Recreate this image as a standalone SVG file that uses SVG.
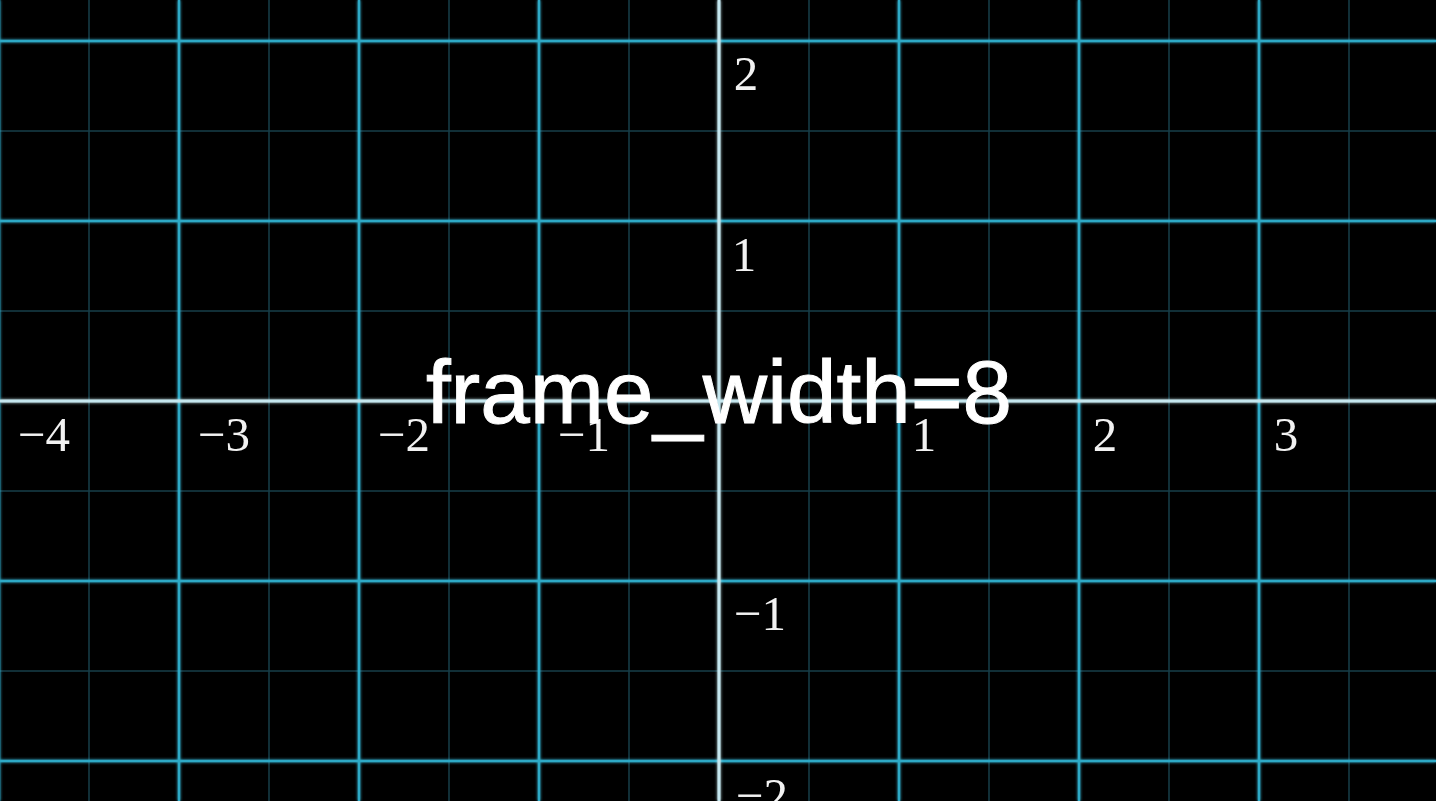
<svg xmlns="http://www.w3.org/2000/svg" width="1436" height="801" viewBox="0 0 1436 801">
  <defs>
    <style>
      .minor { stroke: #173f4a; stroke-width: 1.5; }
      .major { stroke: #2fa9c6; stroke-width: 2.5; }
      .axis { stroke: #c4e6ee; stroke-width: 3; }
      .num { font-family: "Liberation Serif", "DejaVu Serif", serif; font-size: 49px; fill: #f2f2f2; text-anchor: middle; }
      .title { font-family: "Liberation Sans", Arial, sans-serif; font-size: 89px; fill: #ffffff; stroke: #ffffff; stroke-width: 1; text-anchor: middle; }
    </style>
    <filter id="glow" x="-5%" y="-5%" width="110%" height="110%">
      <feGaussianBlur stdDeviation="1.5" result="b"/>
      <feMerge><feMergeNode in="b"/><feMergeNode in="SourceGraphic"/></feMerge>
    </filter>
  </defs>
  <rect x="0" y="0" width="1436" height="801" fill="#000000"/>

  <g id="minor-grid" class="minor">
    <line x1="89" y1="0" x2="89" y2="801"/>
    <line x1="269" y1="0" x2="269" y2="801"/>
    <line x1="449" y1="0" x2="449" y2="801"/>
    <line x1="629" y1="0" x2="629" y2="801"/>
    <line x1="809" y1="0" x2="809" y2="801"/>
    <line x1="989" y1="0" x2="989" y2="801"/>
    <line x1="1169" y1="0" x2="1169" y2="801"/>
    <line x1="1349" y1="0" x2="1349" y2="801"/>
    <line x1="0" y1="131" x2="1436" y2="131"/>
    <line x1="0" y1="311" x2="1436" y2="311"/>
    <line x1="0" y1="491" x2="1436" y2="491"/>
    <line x1="0" y1="671" x2="1436" y2="671"/>
  </g>

  <g id="major-grid" class="major" filter="url(#glow)">
    <line x1="-1" y1="0" x2="-1" y2="801"/>
    <line x1="179" y1="0" x2="179" y2="801"/>
    <line x1="359" y1="0" x2="359" y2="801"/>
    <line x1="539" y1="0" x2="539" y2="801"/>
    <line x1="899" y1="0" x2="899" y2="801"/>
    <line x1="1079" y1="0" x2="1079" y2="801"/>
    <line x1="1259" y1="0" x2="1259" y2="801"/>
    <line x1="0" y1="41" x2="1436" y2="41"/>
    <line x1="0" y1="221" x2="1436" y2="221"/>
    <line x1="0" y1="581" x2="1436" y2="581"/>
    <line x1="0" y1="761" x2="1436" y2="761"/>
  </g>

  <g id="axes" class="axis" filter="url(#glow)">
    <line x1="0" y1="401" x2="1436" y2="401"/>
    <line x1="719" y1="0" x2="719" y2="801"/>
  </g>

  <g id="x-labels">
    <text class="num" x="44" y="451">−4</text>
    <text class="num" x="224" y="451">−3</text>
    <text class="num" x="404" y="451">−2</text>
    <text class="num" x="584" y="451">−1</text>
    <text class="num" x="924" y="451">1</text>
    <text class="num" x="1105" y="451">2</text>
    <text class="num" x="1286" y="451">3</text>
  </g>

  <g id="y-labels">
    <text class="num" x="746" y="90">2</text>
    <text class="num" x="744" y="271">1</text>
    <text class="num" x="760" y="630">−1</text>
    <text class="num" x="762" y="812">−2</text>
  </g>

  <g id="title">
    <text class="title" x="719" y="423">frame_width=8</text>
  </g>
</svg>
